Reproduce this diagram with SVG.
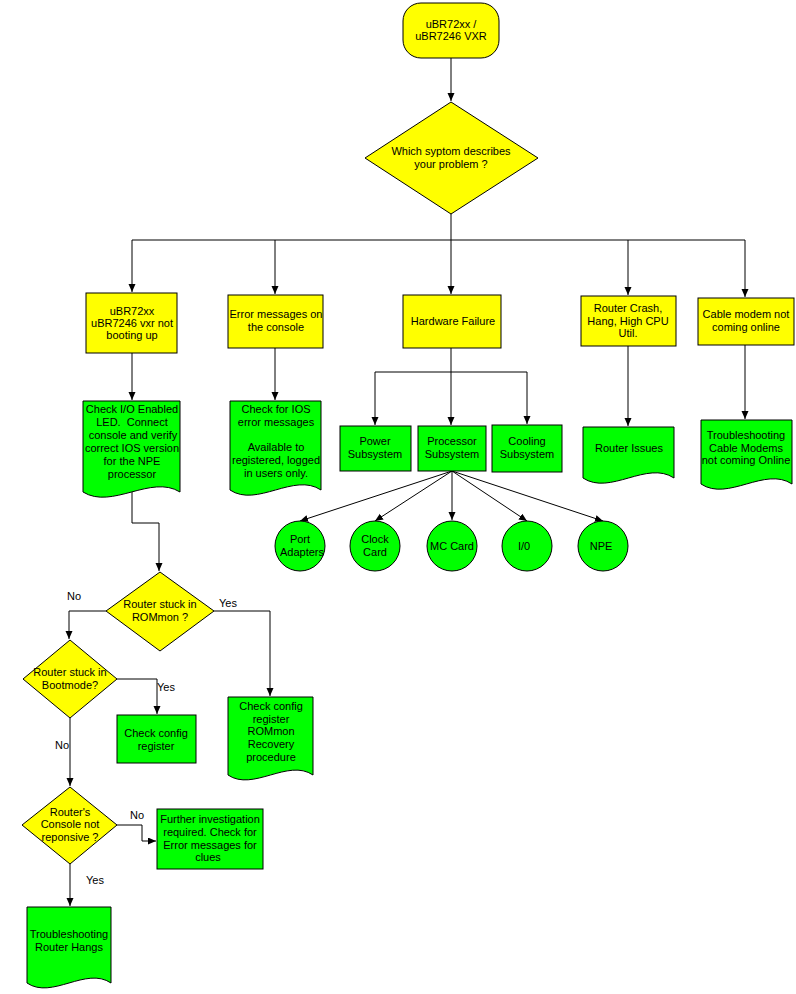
<svg xmlns="http://www.w3.org/2000/svg" width="796" height="994" viewBox="0 0 796 994">
<defs>
<marker id="ah" markerUnits="userSpaceOnUse" markerWidth="8" markerHeight="8" refX="8" refY="3.5" orient="auto">
<path d="M0,0 L8,3.5 L0,7 z" fill="#000"/>
</marker>
<style>
.y{fill:#ffff00;stroke:#000;stroke-width:1}
.g{fill:#00ff00;stroke:#000;stroke-width:1}
.c{fill:none;stroke:#000;stroke-width:1}
.ca{fill:none;stroke:#000;stroke-width:1;marker-end:url(#ah)}
.t{font-family:"Liberation Sans",Arial,sans-serif;font-size:11px;fill:#000;text-anchor:middle}
.l{font-family:"Liberation Sans",Arial,sans-serif;font-size:11px;fill:#000;text-anchor:middle}
</style>
</defs>
<rect width="796" height="994" fill="#fff"/>

<g id="connectors">
<path class="ca" d="M451,58 V101"/>
<path class="c" d="M451,214 V240 M132,240 H745"/>
<path class="ca" d="M132,240 V292"/>
<path class="ca" d="M275,240 V294"/>
<path class="ca" d="M451,240 V294"/>
<path class="ca" d="M628,240 V295"/>
<path class="ca" d="M745,240 V297"/>
<path class="ca" d="M132,353 V400"/>
<path class="ca" d="M275,348 V400"/>
<path class="ca" d="M628,346 V426"/>
<path class="ca" d="M745,345 V419"/>
<path class="c" d="M451,348 V372 M375,372 H527"/>
<path class="ca" d="M375,372 V425"/>
<path class="ca" d="M451,372 V425"/>
<path class="ca" d="M527,372 V424"/>
<path class="ca" d="M452,471 L300,521"/>
<path class="ca" d="M452,471 L375,521"/>
<path class="ca" d="M452,471 V520"/>
<path class="ca" d="M452,471 L527,521"/>
<path class="ca" d="M452,471 L603,521"/>
<path class="ca" d="M132,490 V523 H159 V571"/>
<path class="ca" d="M106,611 H69 V639"/>
<path class="ca" d="M214,611 H270 V696"/>
<path class="ca" d="M117,679 H157 V714"/>
<path class="ca" d="M70,718 V786"/>
<path class="ca" d="M117,825 H142 V841 H156"/>
<path class="ca" d="M70,864 V906"/>
<text class="l" x="74" y="600">No</text>
<text class="l" x="228" y="607">Yes</text>
<text class="l" x="166" y="691">Yes</text>
<text class="l" x="62" y="749">No</text>
<text class="l" x="137" y="819">No</text>
<text class="l" x="95" y="884">Yes</text>
</g>

<g id="start">
<rect class="y" x="403" y="3" width="96" height="55" rx="18" ry="18"/>
<text class="t" x="451" y="28">uBR72xx /</text>
<text class="t" x="451" y="40">uBR7246 VXR</text>
</g>

<g id="symptom">
<path class="y" d="M451,102 L538,158 L451,214 L365,158 Z"/>
<text class="t" x="451" y="155">Which syptom describes</text>
<text class="t" x="451" y="168">your problem ?</text>
</g>

<g id="notbooting">
<rect class="y" x="86" y="293" width="91" height="60"/>
<text class="t" x="132" y="315">uBR72xx</text>
<text class="t" x="132" y="327">uBR7246 vxr not</text>
<text class="t" x="132" y="339">booting up</text>
</g>

<g id="errormsgs">
<rect class="y" x="228" y="295" width="95" height="53"/>
<text class="t" x="276" y="318">Error messages on</text>
<text class="t" x="276" y="331">the console</text>
</g>

<g id="hwfailure">
<rect class="y" x="403" y="295" width="98" height="53"/>
<text class="t" x="453" y="325">Hardware Failure</text>
</g>

<g id="crash">
<rect class="y" x="581" y="296" width="95" height="50"/>
<text class="t" x="628" y="312">Router Crash,</text>
<text class="t" x="628" y="325">Hang, High CPU</text>
<text class="t" x="628" y="337">Util.</text>
</g>

<g id="cablemodem">
<rect class="y" x="698" y="298" width="96" height="47"/>
<text class="t" x="746" y="318">Cable modem not</text>
<text class="t" x="746" y="331">coming online</text>
</g>

<g id="checkio">
<path class="g" d="M83,401 H180 V492 C151,474 112,510 83,492 Z"/>
<text class="t" x="132" y="413">Check I/O Enabled</text>
<text class="t" x="132" y="426" style="white-space:pre">LED.  Connect</text>
<text class="t" x="133" y="439">console and verify</text>
<text class="t" x="132" y="452">correct IOS version</text>
<text class="t" x="132" y="465">for the NPE</text>
<text class="t" x="132" y="478">processor</text>
</g>

<g id="checkios">
<path class="g" d="M230,401 H321 V490 C294,472 257,508 230,490 Z"/>
<text class="t" x="276" y="413">Check for IOS</text>
<text class="t" x="276" y="426">error messages</text>
<text class="t" x="276" y="451">Available to</text>
<text class="t" x="276" y="464">registered, logged</text>
<text class="t" x="276" y="477">in users only.</text>
</g>

<g id="power">
<rect class="g" x="340" y="426" width="71" height="45"/>
<text class="t" x="375" y="445">Power</text>
<text class="t" x="375" y="458">Subsystem</text>
</g>

<g id="processor">
<rect class="g" x="418" y="426" width="68" height="45"/>
<text class="t" x="452" y="445">Processor</text>
<text class="t" x="452" y="458">Subsystem</text>
</g>

<g id="cooling">
<rect class="g" x="492" y="425" width="70" height="47"/>
<text class="t" x="527" y="445">Cooling</text>
<text class="t" x="527" y="458">Subsystem</text>
</g>

<g id="routerissues">
<path class="g" d="M583,427 H674 V478 C647,460 610,496 583,478 Z"/>
<text class="t" x="629" y="452">Router Issues</text>
</g>

<g id="troublecm">
<path class="g" d="M701,420 H792 V484 C765,466 728,502 701,484 Z"/>
<text class="t" x="746" y="439">Troubleshooting</text>
<text class="t" x="746" y="452">Cable Modems</text>
<text class="t" x="746" y="464">not coming Online</text>
</g>

<g id="portadapters">
<circle class="g" cx="300" cy="546" r="25"/>
<text class="t" x="300" y="543">Port</text>
<text class="t" x="302" y="556">Adapters</text>
</g>
<g id="clockcard">
<circle class="g" cx="375" cy="546" r="25"/>
<text class="t" x="375" y="543">Clock</text>
<text class="t" x="375" y="556">Card</text>
</g>
<g id="mccard">
<circle class="g" cx="452" cy="546" r="25"/>
<text class="t" x="452" y="550">MC Card</text>
</g>
<g id="io">
<circle class="g" cx="527" cy="546" r="25"/>
<text class="t" x="524" y="550">I/0</text>
</g>
<g id="npe">
<circle class="g" cx="603" cy="546" r="25"/>
<text class="t" x="601" y="550">NPE</text>
</g>

<g id="rommon">
<path class="y" d="M160,572 L214,611 L160,651 L106,611 Z"/>
<text class="t" x="160" y="608">Router stuck in</text>
<text class="t" x="160" y="621">ROMmon ?</text>
</g>

<g id="bootmode">
<path class="y" d="M70,640 L117,679 L70,718 L23,679 Z"/>
<text class="t" x="70" y="676">Router stuck in</text>
<text class="t" x="70" y="689">Bootmode?</text>
</g>

<g id="checkconfig">
<rect class="g" x="117" y="715" width="79" height="48"/>
<text class="t" x="156" y="737">Check config</text>
<text class="t" x="156" y="750">register</text>
</g>

<g id="rommonrecovery">
<path class="g" d="M228,697 H313 V775 C288,758 253,792 228,775 Z"/>
<text class="t" x="271" y="710">Check config</text>
<text class="t" x="271" y="723">register</text>
<text class="t" x="271" y="735">ROMmon</text>
<text class="t" x="271" y="748">Recovery</text>
<text class="t" x="271" y="761">procedure</text>
</g>

<g id="console">
<path class="y" d="M70,787 L117,825 L70,864 L22,825 Z"/>
<text class="t" x="70" y="816">Router's</text>
<text class="t" x="70" y="828">Console not</text>
<text class="t" x="70" y="841">reponsive ?</text>
</g>

<g id="further">
<rect class="g" x="157" y="809" width="106" height="60"/>
<text class="t" x="210" y="823">Further investigation</text>
<text class="t" x="210" y="836">required. Check for</text>
<text class="t" x="210" y="849">Error messages for</text>
<text class="t" x="208" y="861">clues</text>
</g>

<g id="routerhangs">
<path class="g" d="M27,907 H111 V983 C86,966 52,1000 27,983 Z"/>
<text class="t" x="69" y="938">Troubleshooting</text>
<text class="t" x="69" y="951">Router Hangs</text>
</g>
</svg>
